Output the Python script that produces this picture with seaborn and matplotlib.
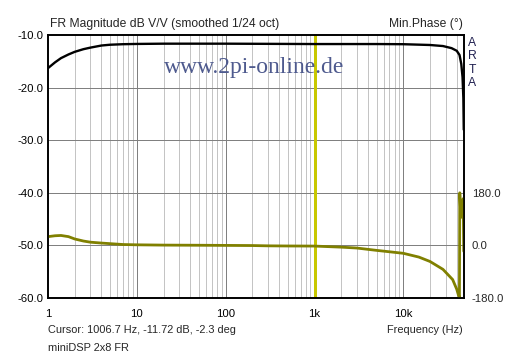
import numpy as np
import pandas as pd
import matplotlib
matplotlib.use("Agg")
import matplotlib.pyplot as plt
import seaborn as sns

# ---- data ----
mag_freq = [1, 1.2, 1.4, 1.7, 2, 2.5, 3, 4, 5, 7, 10, 20, 50, 100, 1000, 5000,
            10000, 20000, 28000, 35000, 40000, 43000, 45000, 46500, 47500, 48000]
mag_db = [-16.3, -15.2, -14.4, -13.7, -13.2, -12.7, -12.4, -12.0, -11.85, -11.75,
          -11.7, -11.65, -11.65, -11.65, -11.72, -11.72, -11.75, -11.9, -12.1,
          -12.5, -13.0, -13.8, -15.5, -18.0, -22.0, -28.0]

ph_freq = [1, 1.2, 1.4, 1.7, 2, 2.5, 3, 4, 5, 7, 10, 20, 50, 100, 200, 300, 500,
           1000, 2000, 3000, 5000, 10000, 15000, 20000, 28000, 36000, 40000,
           42000, 42900, 43300, 44300, 45300, 46300, 47300, 48000]
ph_deg = [30, 33, 34, 30, 22, 15, 11, 8, 6, 3, 2, 1, 0.5, 0, -0.5, -1.5, -2,
          -2.3, -6, -9, -17, -27, -40, -55, -82, -117, -150, -172, -178,
          180, 110, 125, 95, 160, -20]

x_ticks = [1, 10, 100, 1000, 10000]
x_ticklabels = ["1", "10", "100", "1k", "10k"]
y_ticks = [-60, -50, -40, -30, -20, -10]
y2_ticks = [-180, 0, 180]
cursor_freq = 1006.7

title_left = "FR Magnitude dB V/V (smoothed 1/24 oct)"
title_right = "Min.Phase (°)"
cursor_text = "Cursor: 1006.7 Hz, -11.72 dB, -2.3 deg"
xlabel = "Frequency (Hz)"
name_text = "miniDSP 2x8 FR"
watermark = "www.2pi-online.de"

mag = pd.DataFrame({"f": mag_freq, "db": mag_db})
ph = pd.DataFrame({"f": ph_freq, "deg": ph_deg})

sns.set_style("white")
plt.rcParams["font.family"] = ["Liberation Sans", "DejaVu Sans"]

fig = plt.figure(figsize=(5.12, 3.58), dpi=100)
ax = fig.add_axes([48/512, 1-298/358, 416/512, 263/358])
ax.set_xscale("log")
ax.set_xlim(1, 48300)
ax.set_ylim(-60, -10)

# grid (1 px crisp lines)
px = 0.72
for dec in [1, 10, 100, 1000, 10000]:
    for m in range(2, 10):
        f = dec * m
        if f < 48300:
            ax.axvline(f, color="#c4c4c4", lw=px, zorder=0, antialiased=False)
for f in x_ticks[1:]:
    if f != 1000:
        ax.axvline(f, color="#808080", lw=px, zorder=0.5, antialiased=False)
for y in y_ticks[1:-1]:
    ax.axhline(y, color="#808080", lw=px, zorder=0.5, antialiased=False)
ax.axvline(cursor_freq, color="#c8c800", lw=0.85, zorder=2, antialiased=False)

ax2 = ax.twinx()
ax2.set_ylim(-180, 720)
ax2.set_xscale("log")
ax2.set_xlim(1, 48300)

sns.lineplot(data=ph, x="f", y="deg", ax=ax2, color="#808000", lw=2.0, sort=False)
sns.lineplot(data=mag, x="f", y="db", ax=ax, color="black", lw=1.7, sort=False, zorder=3)

ax.set_xticks(x_ticks)
ax.set_xticklabels(x_ticklabels)
ax.xaxis.set_minor_locator(matplotlib.ticker.NullLocator())
ax.set_yticks(y_ticks)
ax.set_yticklabels([f"{v:.1f}" for v in y_ticks])
ax2.set_yticks(y2_ticks)
ax2.set_yticklabels([f"{v:.1f}" for v in y2_ticks])
ax.set_xlabel("")
ax.set_ylabel("")
ax2.set_ylabel("")
ax.tick_params(axis="both", length=0, labelsize=8.2, colors="black")
ax.tick_params(axis="x", pad=8)
ax.tick_params(axis="y", pad=3)
ax2.tick_params(axis="y", length=0, labelsize=8.2, pad=5.5)
for a in (ax, ax2):
    for s in a.spines.values():
        s.set_color("black")
        s.set_linewidth(1.2)

fig.text(50/512, 1-24/358, title_left, fontsize=8.7, ha="left", va="center")
fig.text(463/512, 1-24/358, title_right, fontsize=8.7, ha="right", va="center")
fig.text(48/512, 1-330/358, cursor_text, fontsize=7.9, ha="left", va="center")
fig.text(463/512, 1-330/358, xlabel, fontsize=7.9, ha="right", va="center")
fig.text(48/512, 1-348/358, name_text, fontsize=7.9, ha="left", va="center")
for i, ch in enumerate("ARTA"):
    fig.text(472/512, 1-(43 + i*13.3)/358, ch, fontsize=8.7, ha="center", va="center",
             color="#202050")
fig.text(254/512, 1-67/358, watermark, fontsize=17, ha="center", va="center",
         color="#4e5a8e", family=["Liberation Serif", "DejaVu Serif"])

fig.savefig("out.png", dpi=100)
